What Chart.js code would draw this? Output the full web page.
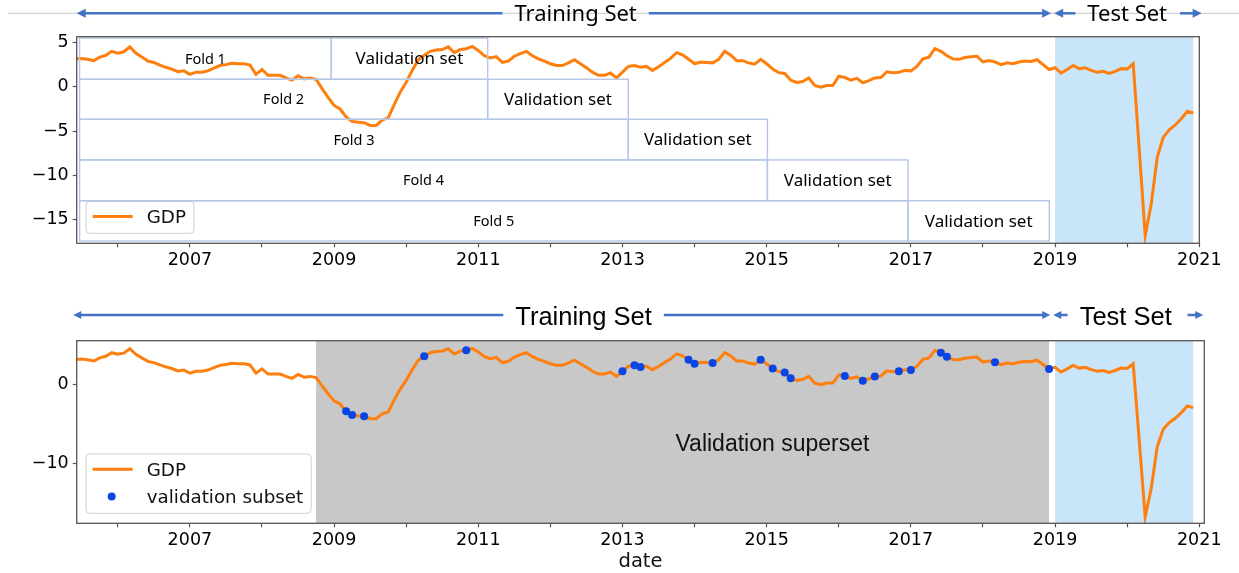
<!DOCTYPE html>
<html>
<head>
<meta charset="utf-8">
<script src="https://cdn.jsdelivr.net/npm/chart.js@4.4.1/dist/chart.umd.min.js"></script>
<style>
html,body{margin:0;padding:0;background:#fff;}
#wrap{position:relative;width:1239px;height:573px;overflow:hidden;}
.box{position:absolute;left:0;width:1239px;}
canvas{display:block;}
</style>
</head>
<body>
<div id="wrap">
  <div class="box" style="top:0;height:290px"><canvas id="c1" width="1239" height="290"></canvas></div>
  <div class="box" style="top:290px;height:283px"><canvas id="c2" width="1239" height="283"></canvas></div>
</div>
<script>
// ---------------- DATA ----------------
const startYear = 2005;
const startMonth = 6; // first observation: June 2005, monthly
const gdp = [
  3.15, 3.2, 3.1, 2.95, 3.35, 3.55, 4.0, 3.8, 3.95, 4.5,
  3.8, 3.35, 2.9, 2.75, 2.45, 2.2, 2.0, 1.7, 1.8, 1.4,
  1.65, 1.65, 1.8, 2.1, 2.4, 2.5, 2.65, 2.6, 2.6, 2.45,
  1.4, 1.95, 1.3, 1.3, 1.3, 1.0, 0.75, 1.25, 0.9, 1.0,
  0.85, -0.2, -1.2, -2.1, -2.5, -3.4, -3.9, -4.0, -4.05, -4.35,
  -4.35, -3.75, -3.5, -2.0, -0.6, 0.5, 1.85, 3.05, 3.55, 4.0,
  4.15, 4.2, 4.5, 3.85, 4.2, 4.3, 4.55, 4.1, 3.5, 3.25,
  3.4, 2.75, 2.9, 3.45, 3.75, 4.0, 3.5, 3.15, 2.9, 2.6,
  2.4, 2.4, 2.7, 3.05, 2.6, 2.15, 1.65, 1.3, 1.3, 1.55,
  1.0, 1.65, 2.3, 2.4, 2.2, 2.3, 1.85, 2.25, 2.75, 3.2,
  3.85, 3.6, 3.1, 2.6, 2.8, 2.75, 2.7, 3.1, 4.0, 3.6,
  2.95, 2.95, 2.7, 2.55, 3.1, 2.6, 2.0, 1.6, 1.5, 0.75,
  0.5, 0.6, 1.0, 0.15, -0.05, 0.15, 0.15, 1.2, 1.05, 0.75,
  0.95, 0.45, 0.7, 1.0, 1.05, 1.7, 1.6, 1.65, 1.85, 1.8,
  2.3, 3.15, 3.35, 4.3, 4.0, 3.5, 3.15, 3.1, 3.3, 3.4,
  3.45, 2.8, 2.95, 2.8, 2.5, 2.7, 2.6, 2.8, 2.9, 2.85,
  3.05, 2.5, 1.95, 2.15, 1.55, 1.95, 2.4, 2.05, 2.15, 1.85,
  1.65, 1.75, 1.5, 1.75, 2.05, 2.0, 2.6, -7.0, -16.8, -13.2,
  -7.95, -5.7, -4.85, -4.3, -3.6, -2.75, -2.95
];
const validationMonths = [
  '2009-03', '2009-04', '2009-06', '2010-04', '2010-11',
  '2013-01', '2013-03', '2013-04', '2013-12', '2014-01', '2014-04',
  '2014-12', '2015-02', '2015-04', '2015-05',
  '2016-02', '2016-05', '2016-07', '2016-11', '2017-01',
  '2017-06', '2017-07', '2018-03', '2018-12'
];
const xMajorTicks = [2007, 2009, 2011, 2013, 2015, 2017, 2019, 2021];
const xMinorTicks = [2006, 2008, 2010, 2012, 2014, 2016, 2018, 2020];
const yTicksTop = [-15, -10, -5, 0, 5];
const yTicksBottom = [-10, 0];
const testPeriod = ['2019-01', '2020-12'];
const validationSuperset = ['2008-10', '2018-12'];
const foldLabels = ['Fold 1', 'Fold 2', 'Fold 3', 'Fold 4', 'Fold 5'];
const foldBoxStart = 2005.47;
const foldEdges = [2008.96, 2011.13, 2013.08, 2015.01, 2016.96, 2018.92];
const foldRowEdges = [5.5, 0.85, -3.66, -8.24, -12.84, -17.38];

// ---------------- HELPERS ----------------
const toYear = s => +s.slice(0, 4) + (+s.slice(5, 7) - 1) / 12;
const months = gdp.map((_, i) => startYear + (startMonth - 1 + i) / 12);
const gdpPoints = months.map((x, i) => ({x, y: gdp[i]}));
const validationPoints = validationMonths.map(s => {
  const x = toYear(s);
  const i = Math.round((x - months[0]) * 12);
  return {x, y: gdp[i]};
});
const px = (c, v) => c.scales.x.getPixelForValue(v);
const py = (c, v) => c.scales.y.getPixelForValue(v);
const fmt = v => (v < 0 ? '\u2212' + Math.abs(v) : String(v));

const ORANGE = '#ff7f0e', DOT = '#0a46e4', ARROW = '#4472c4', SPINE = '#555555';
const TICKFONT = {family: 'DejaVu Sans', size: 17.5};

function arrowSeg(ctx, x1, x2, y, headL, headR, hl, hw) {
  ctx.save();
  ctx.strokeStyle = ARROW; ctx.fillStyle = ARROW; ctx.lineWidth = 2.5;
  ctx.beginPath();
  ctx.moveTo(headL ? x1 + hl - 1 : x1, y);
  ctx.lineTo(headR ? x2 - hl + 1 : x2, y);
  ctx.stroke();
  if (headL) { ctx.beginPath(); ctx.moveTo(x1, y); ctx.lineTo(x1 + hl, y - hw); ctx.lineTo(x1 + hl, y + hw); ctx.closePath(); ctx.fill(); }
  if (headR) { ctx.beginPath(); ctx.moveTo(x2, y); ctx.lineTo(x2 - hl, y - hw); ctx.lineTo(x2 - hl, y + hw); ctx.closePath(); ctx.fill(); }
  ctx.restore();
}

function drawSetBar(chart, o) {
  const ctx = chart.ctx;
  ctx.save();
  ctx.font = o.font; ctx.fillStyle = '#000'; ctx.textAlign = 'center'; ctx.textBaseline = 'alphabetic';
  const trCx = px(chart, o.trainCenter), teCx = px(chart, o.testCenter);
  const wTr = ctx.measureText('Training Set').width, wTe = ctx.measureText('Test Set').width;
  ctx.fillText('Training Set', trCx, o.y + o.baseOff);
  ctx.fillText('Test Set', teCx, o.y + o.baseOff);
  ctx.restore();
  const div = px(chart, 2019) - o.divOff;
  arrowSeg(ctx, o.leftTip, trCx - wTr / 2 - o.gap, o.y, true, false, o.hl, o.hw);
  arrowSeg(ctx, trCx + wTr / 2 + o.gap, div - 1.5, o.y, false, true, o.hl, o.hw);
  arrowSeg(ctx, div + 1.5, teCx - wTe / 2 - o.gap, o.y, true, false, o.hl, o.hw);
  arrowSeg(ctx, teCx + wTe / 2 + o.gap2, o.rightTip, o.y, false, true, o.hl, o.hw);
}

function drawLegend(chart, items) {
  const ctx = chart.ctx, a = chart.chartArea;
  ctx.save();
  ctx.font = '18.3px "DejaVu Sans"';
  const tw = Math.max(...items.map(it => ctx.measureText(it.label).width));
  const x0 = a.left + 9.3;
  const h = 32 + 27.4 * (items.length - 1);
  const y0 = a.bottom - 10 - h;
  const w = 60.7 + tw + 8;
  ctx.beginPath();
  if (ctx.roundRect) ctx.roundRect(x0, y0, w, h, 4); else ctx.rect(x0, y0, w, h);
  ctx.fillStyle = 'rgba(255,255,255,0.85)'; ctx.fill();
  ctx.strokeStyle = '#cfcfcf'; ctx.lineWidth = 1; ctx.stroke();
  items.forEach((it, k) => {
    const cy = y0 + 15.3 + 27.4 * k;
    if (it.type === 'line') {
      ctx.strokeStyle = ORANGE; ctx.lineWidth = 3;
      ctx.beginPath(); ctx.moveTo(x0 + 6.7, cy); ctx.lineTo(x0 + 46.7, cy); ctx.stroke();
    } else {
      ctx.fillStyle = DOT; ctx.beginPath(); ctx.arc(x0 + 25.7, cy, 4, 0, Math.PI * 2); ctx.fill();
    }
    ctx.fillStyle = '#111'; ctx.textAlign = 'left'; ctx.textBaseline = 'alphabetic';
    ctx.fillText(it.label, x0 + 60.7, cy + 6.6);
  });
  ctx.restore();
}

function drawSpines(chart) {
  const ctx = chart.ctx, a = chart.chartArea;
  ctx.save(); ctx.strokeStyle = SPINE; ctx.lineWidth = 1.3;
  ctx.strokeRect(a.left, a.top, a.right - a.left, a.bottom - a.top);
  ctx.restore();
}

function fillSpan(chart, x1, x2, color) {
  const ctx = chart.ctx, a = chart.chartArea;
  const p1 = px(chart, x1), p2 = px(chart, x2);
  ctx.save(); ctx.fillStyle = color; ctx.fillRect(p1, a.top, p2 - p1, a.bottom - a.top); ctx.restore();
}

function makeScales(xMax, yMin, yMax, yTicks, xHeight) {
  return {
    x: {
      type: 'linear', min: 2005.43, max: xMax,
      afterBuildTicks: s => { s.ticks = [...xMinorTicks, ...xMajorTicks].sort((a, b) => a - b).map(v => ({value: v})); },
      afterFit: s => { s.height = xHeight; },
      ticks: {autoSkip: false, maxRotation: 0, minRotation: 0, padding: 3, color: '#000', font: TICKFONT,
              callback: v => (xMajorTicks.includes(v) ? String(v) : '')},
      grid: {drawOnChartArea: false, drawTicks: true, tickLength: 4, tickColor: SPINE, tickWidth: 1.2},
      border: {display: false}
    },
    y: {
      type: 'linear', min: yMin, max: yMax,
      afterBuildTicks: s => { s.ticks = yTicks.map(v => ({value: v})); },
      afterFit: s => { s.width = 76.7; },
      ticks: {padding: 4, color: '#000', font: TICKFONT, callback: v => fmt(v)},
      grid: {drawOnChartArea: false, drawTicks: true, tickLength: 4, tickColor: SPINE, tickWidth: 1.2},
      border: {display: false}
    }
  };
}

const common = {
  responsive: false, animation: false, events: [],
  plugins: {legend: {display: false}, tooltip: {enabled: false}}
};

// ---------------- TOP CHART ----------------
new Chart(document.getElementById('c1'), {
  type: 'line',
  data: {datasets: [{label: 'GDP', data: gdpPoints, borderColor: ORANGE, borderWidth: 3, pointRadius: 0, tension: 0, fill: false}]},
  options: Object.assign({}, common, {
    layout: {padding: {top: 36.7, right: 39.7, left: 0, bottom: 0}},
    scales: makeScales(2021.0, -17.64, 5.65, yTicksTop, 46.7)
  }),
  plugins: [{
    id: 'topDecor',
    beforeDatasetsDraw(chart) { fillSpan(chart, toYear(testPeriod[0]), toYear(testPeriod[1]), '#c8e5f9'); },
    afterDatasetsDraw(chart) {
      drawLegend(chart, [{type: 'line', label: chart.data.datasets[0].label}]);
      const ctx = chart.ctx;
      ctx.save();
      ctx.strokeStyle = '#b4c7e7'; ctx.lineWidth = 1.4;
      ctx.fillStyle = '#000'; ctx.textAlign = 'center'; ctx.textBaseline = 'middle';
      const xs = px(chart, foldBoxStart);
      for (let k = 0; k < foldLabels.length; k++) {
        const yt = py(chart, foldRowEdges[k]), yb = py(chart, foldRowEdges[k + 1]);
        const xe = px(chart, foldEdges[k]), xv = px(chart, foldEdges[k + 1]);
        ctx.strokeRect(xs, yt, xe - xs, yb - yt);
        ctx.strokeRect(xe, yt, xv - xe, yb - yt);
        ctx.font = '14.5px "Noto Sans"';
        ctx.fillText(foldLabels[k], (xs + xe) / 2, (yt + yb) / 2 + 1);
        ctx.font = '17px "Noto Sans"';
        ctx.fillText('Validation set', (xe + xv) / 2, (yt + yb) / 2 + 1);
      }
      ctx.restore();
      drawSpines(chart);
    },
    afterDraw(chart) {
      const ctx = chart.ctx, a = chart.chartArea, y = a.top - 23.4;
      ctx.save(); ctx.strokeStyle = '#c8c8c8'; ctx.lineWidth = 1;
      ctx.beginPath(); ctx.moveTo(8, y); ctx.lineTo(chart.width, y); ctx.stroke(); ctx.restore();
      drawSetBar(chart, {font: '22px "Noto Sans"', y, baseOff: 7.4, trainCenter: 2012.35, testCenter: 2020.0,
        leftTip: a.left, rightTip: a.right + 2.4, divOff: 2.5, gap: 12, gap2: 13, hl: 9, hw: 4.5});
    }
  }]
});

// ---------------- BOTTOM CHART ----------------
new Chart(document.getElementById('c2'), {
  type: 'line',
  data: {datasets: [
    {label: 'GDP', data: gdpPoints, borderColor: ORANGE, borderWidth: 3, pointRadius: 0, tension: 0, fill: false, order: 2},
    {label: 'validation subset', data: validationPoints, showLine: false, pointRadius: 4, pointBackgroundColor: DOT, pointBorderWidth: 0, borderColor: DOT, order: 1}
  ]},
  options: Object.assign({}, common, {
    layout: {padding: {top: 50.7, right: 34.7, left: 0, bottom: 0}},
    scales: makeScales(2021.07, -17.6, 5.52, yTicksBottom, 49.7)
  }),
  plugins: [{
    id: 'bottomDecor',
    beforeDatasetsDraw(chart) {
      fillSpan(chart, toYear(validationSuperset[0]), toYear(validationSuperset[1]), '#c8c8c8');
      fillSpan(chart, toYear(testPeriod[0]), toYear(testPeriod[1]), '#c8e5f9');
      const ctx = chart.ctx;
      ctx.save(); ctx.font = '23px "Liberation Sans"'; ctx.fillStyle = '#111';
      ctx.textAlign = 'center'; ctx.textBaseline = 'middle';
      ctx.fillText('Validation superset', px(chart, 2015.08), py(chart, -7.7));
      ctx.restore();
    },
    afterDatasetsDraw(chart) {
      drawLegend(chart, chart.data.datasets.map(d => ({type: d.showLine === false ? 'dot' : 'line', label: d.label})));
      drawSpines(chart);
    },
    afterDraw(chart) {
      const ctx = chart.ctx, a = chart.chartArea;
      drawSetBar(chart, {font: '25.5px "Liberation Sans"', y: a.top - 25.7, baseOff: 10, trainCenter: 2012.46, testCenter: 2019.98,
        leftTip: a.left - 3.4, rightTip: a.right - 1, divOff: 3.3, gap: 12, gap2: 15.7, hl: 8, hw: 4});
      ctx.save(); ctx.font = '19.5px "DejaVu Sans"'; ctx.fillStyle = '#111'; ctx.textAlign = 'center'; ctx.textBaseline = 'alphabetic';
      ctx.fillText('date', (a.left + a.right) / 2, a.bottom + 43.4);
      ctx.restore();
    }
  }]
});
</script>
</body>
</html>
